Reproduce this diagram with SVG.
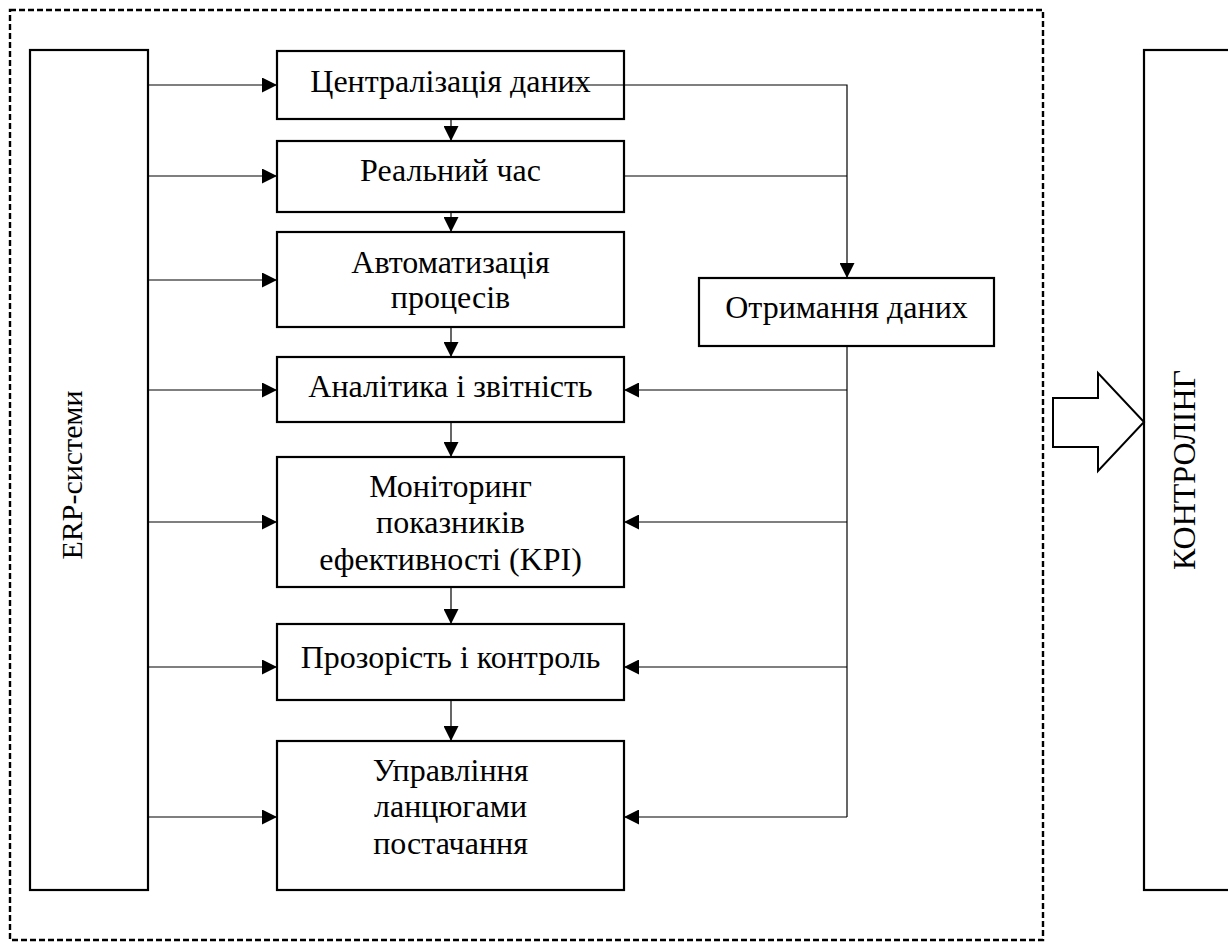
<svg xmlns="http://www.w3.org/2000/svg" width="1228" height="942" viewBox="0 0 1228 942">
<defs>
<marker id="ah" viewBox="0 0 15 15" refX="15" refY="7.5" markerWidth="15" markerHeight="15" markerUnits="userSpaceOnUse" orient="auto">
<path d="M0,0 L15,7.5 L0,15 Z" fill="#000"/>
</marker>
</defs>
<style>
.box{fill:#fff;stroke:#000;stroke-width:2.2}
.t{font-family:"Liberation Serif","Times New Roman",serif;font-size:32px;fill:#000;text-anchor:middle}
.v{font-size:30px}
.c{fill:none;stroke:#000;stroke-width:1.2}
.a{fill:none;stroke:#000;stroke-width:1.2;marker-end:url(#ah)}
</style>
<rect x="10" y="10" width="1033" height="930" fill="none" stroke="#000" stroke-width="2.4" stroke-dasharray="6 3"/>
<g id="erp"><rect class="box" x="30" y="50" width="118" height="840"/><text class="t v" transform="translate(82,475) rotate(-90)">ERP-системи</text></g>
<g id="n1"><rect class="box" x="277" y="51" width="347" height="68"/><text class="t" x="450.5" y="92">Централізація даних</text></g>
<g id="n2"><rect class="box" x="277" y="141" width="347" height="71"/><text class="t" x="450.5" y="181">Реальний час</text></g>
<g id="n3"><rect class="box" x="277" y="232" width="347" height="95"/><text class="t" x="450.5" y="273">Автоматизація</text><text class="t" x="450.5" y="308">процесів</text></g>
<g id="n4"><rect class="box" x="277" y="357" width="347" height="65"/><text class="t" x="450.5" y="397">Аналітика і звітність</text></g>
<g id="n5"><rect class="box" x="277" y="457" width="347" height="130"/><text class="t" x="450.5" y="497">Моніторинг</text><text class="t" x="450.5" y="533">показників</text><text class="t" x="450.5" y="570">ефективності (KPI)</text></g>
<g id="n6"><rect class="box" x="277" y="624" width="347" height="76"/><text class="t" x="450.5" y="668">Прозорість і контроль</text></g>
<g id="n7"><rect class="box" x="277" y="741" width="347" height="149"/><text class="t" x="450.5" y="781">Управління</text><text class="t" x="450.5" y="817">ланцюгами</text><text class="t" x="450.5" y="854">постачання</text></g>
<g id="data"><rect class="box" x="699" y="278" width="295" height="68"/><text class="t" x="846.5" y="318">Отримання даних</text></g>
<g id="control"><rect class="box" x="1144" y="50" width="100" height="840"/><text class="t" transform="translate(1195,470) rotate(-90)">КОНТРОЛІНГ</text></g>
<g id="bigarrow"><polygon points="1053,398 1098,398 1098,373 1144,422 1098,471 1098,447 1053,447" fill="#fff" stroke="#000" stroke-width="2"/></g>
<g id="connectors">
<line class="a" x1="148" y1="85" x2="277" y2="85"/>
<line class="a" x1="148" y1="176" x2="277" y2="176"/>
<line class="a" x1="148" y1="280" x2="277" y2="280"/>
<line class="a" x1="148" y1="390" x2="277" y2="390"/>
<line class="a" x1="148" y1="522" x2="277" y2="522"/>
<line class="a" x1="148" y1="667" x2="277" y2="667"/>
<line class="a" x1="148" y1="817" x2="277" y2="817"/>
<line class="a" x1="451" y1="119" x2="451" y2="141"/>
<line class="a" x1="451" y1="212" x2="451" y2="232"/>
<line class="a" x1="451" y1="327" x2="451" y2="357"/>
<line class="a" x1="451" y1="422" x2="451" y2="457"/>
<line class="a" x1="451" y1="587" x2="451" y2="624"/>
<line class="a" x1="451" y1="700" x2="451" y2="741"/>
<polyline class="a" points="570,85 847,85 847,278"/>
<line class="c" x1="624" y1="176" x2="847" y2="176"/>
<line class="c" x1="847" y1="346" x2="847" y2="817"/>
<line class="a" x1="847" y1="390" x2="624" y2="390"/>
<line class="a" x1="847" y1="522" x2="624" y2="522"/>
<line class="a" x1="847" y1="667" x2="624" y2="667"/>
<line class="a" x1="847" y1="817" x2="624" y2="817"/>
</g>
</svg>
